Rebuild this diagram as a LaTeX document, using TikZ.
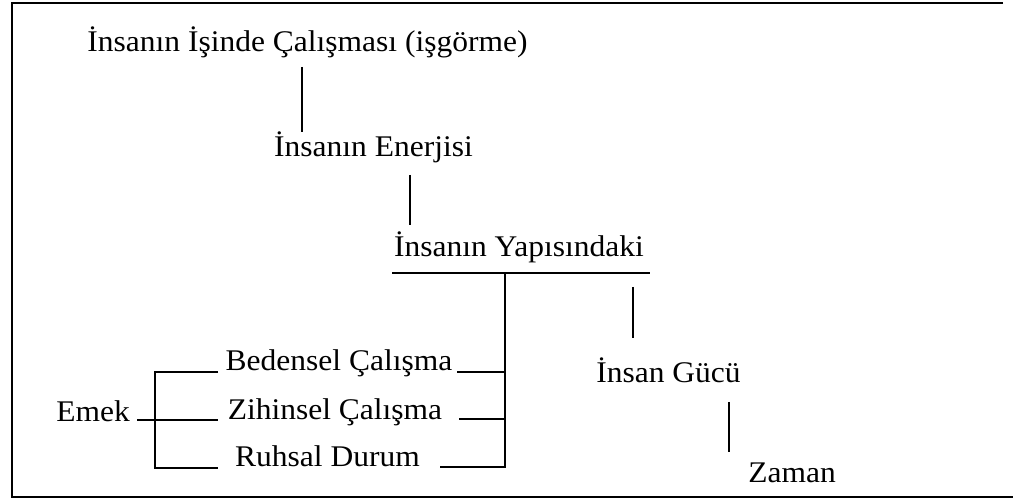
\documentclass[tikz,border=0pt]{standalone}
\usepackage{fontspec}
\setmainfont{Liberation Serif}[FakeStretch=1.05]
\begin{document}
\begin{tikzpicture}[x=0.5pt,y=-0.5pt,
  lbl/.style={inner sep=0pt,anchor=base,font=\fontsize{15}{18}\selectfont},
  conn/.style={line width=0.9pt},
  frameline/.style={line width=1.3pt}]
\useasboundingbox (0,0) rectangle (1013,501);

% open frame: top, left and bottom edges
\draw[frameline] (1003,3) -- (12,3) -- (12,497) -- (1013,497);

% text labels
\node[lbl] (isgorme) at (307.5,52) {İnsanın İşinde Çalışması (işgörme)};
\node[lbl] (enerji)  at (373.5,157) {İnsanın Enerjisi};
\node[lbl] (yapi)    at (519,257) {İnsanın Yapısındaki};
\node[lbl] (guc)     at (668.5,383) {İnsan Gücü};
\node[lbl] (zaman)   at (792,483) {Zaman};
\node[lbl] (emek)    at (93,422) {Emek};
\node[lbl] (beden)   at (339,371) {Bedensel Çalışma};
\node[lbl] (zihin)   at (335,420) {Zihinsel Çalışma};
\node[lbl] (ruh)     at (327.5,467) {Ruhsal Durum};

% connector end points
\coordinate (a1) at (302,67);  \coordinate (a2) at (302,132);
\coordinate (b1) at (410,175); \coordinate (b2) at (410,225);
\coordinate (ul) at (392,273); \coordinate (ur) at (650,273);
\coordinate (sp) at (505,273);
\coordinate (g1) at (633,287); \coordinate (g2) at (633,338);
\coordinate (z1) at (729,402); \coordinate (z2) at (729,452);
\coordinate (rb) at (457,372); \coordinate (rz) at (459,419);
\coordinate (rr) at (440,467);
\coordinate (kt) at (155,372); \coordinate (kb) at (155,468);
\coordinate (km) at (137,420);
\coordinate (et) at (218,372); \coordinate (em) at (218,420);
\coordinate (eb) at (218,468);

% vertical chain
\draw[conn] (a1) -- (a2);
\draw[conn] (b1) -- (b2);
\draw[conn] (ul) -- (ur);
\draw[conn] (g1) -- (g2);
\draw[conn] (z1) -- (z2);

% right bracket joining the three kinds of work
\draw[conn] (rb) -- (rb -| sp);
\draw[conn] (rz) -- (rz -| sp);
\draw[conn] (rr) -- (rr -| sp) -- (sp);

% left bracket from Emek
\draw[conn] (et) -- (kt) -- (kb) -- (eb);
\draw[conn] (km) -- (em);
\end{tikzpicture}
\end{document}
